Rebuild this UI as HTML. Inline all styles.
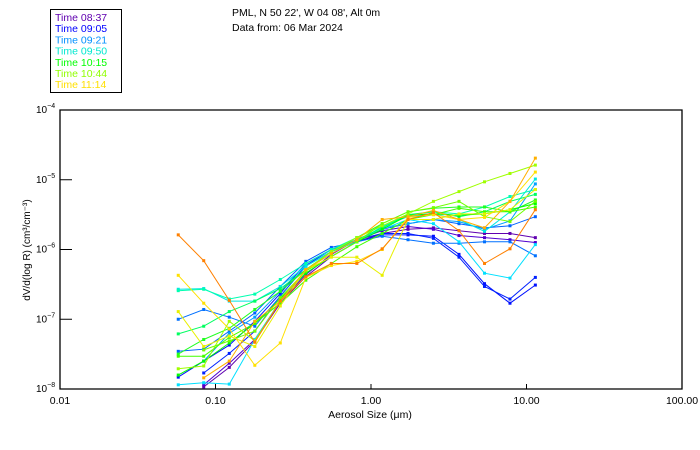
<!DOCTYPE html>
<html><head><meta charset="utf-8"><style>
html,body{margin:0;padding:0;background:#fff;}
svg{display:block;font-family:"Liberation Sans",sans-serif;}
</style></head><body>
<svg id="chart" width="700" height="450" viewBox="0 0 700 450">
<rect x="0" y="0" width="700" height="450" fill="#fff"/>
<g>
<rect x="50.5" y="9.5" width="71" height="83" fill="none" stroke="#000"/>
<g font-size="10.5" id="legend-items"></g>
</g>
<text x="232" y="16" font-size="10.5">PML, N 50 22', W 04 08', Alt 0m</text>
<text x="232" y="31" font-size="10.5">Data from: 06 Mar 2024</text>
<g id="axes"></g>
<g id="series"></g>
<text x="370" y="418" font-size="10.5" text-anchor="middle">Aerosol Size (μm)</text>
<text transform="translate(30,250) rotate(-90)" font-size="10" text-anchor="middle">dV/d(log R) (cm³/cm⁻³)</text>
</svg>
<script>
// Categories: aerosol size bins (μm)
const sizes = [0.0576,0.084,0.1226,0.179,0.261,0.381,0.556,0.811,1.18,1.73,2.52,3.68,5.37,7.83,11.4];
const xTicks = [0.01,0.1,1,10,100];
const xTickLabels = ["0.01","0.10","1.00","10.00","100.00"];
const yTickExps = [-4,-5,-6,-7,-8];
const legendTimes = ["08:37","09:05","09:21","09:50","10:15","10:44","11:14"];
const legendColors = ["#6000b0","#0000ff","#0090ff","#00e8d0","#00ff00","#90ff00","#ffe000"];
const seriesColors = ["#6000b0","#5000d0","#0010ff","#0020ff","#0060ff","#0070ff","#00a0ff","#00e0ff","#00e8e0","#00ffb0","#00ff60","#20ff20","#00ff00","#40ff00","#a0ff00","#70ff00","#e8f000","#ffe000","#ffb000","#ff8000"];
// log10 of dV/d(log R)
const s1 = [null,-7.97,-7.69,-7.31,-6.77,-6.39,-6.10,-5.89,-5.77,-5.71,-5.69,-5.73,-5.77,-5.77,-5.83];
const s2 = [null,-7.94,-7.63,-7.29,-6.74,-6.36,-6.07,-5.86,-5.73,-5.67,-5.71,-5.80,-5.83,-5.86,-5.90];
const s3 = [-7.83,-7.60,-7.37,-7.03,-6.63,-6.20,-6.00,-5.89,-5.79,-5.79,-5.81,-6.07,-6.49,-6.77,-6.51];
const s4 = [null,-7.77,-7.49,-7.17,-6.67,-6.23,-6.00,-5.86,-5.77,-5.77,-5.84,-6.11,-6.53,-6.71,-6.40];
const s5 = [-7.46,-7.43,-7.17,-6.91,-6.53,-6.17,-5.97,-5.89,-5.71,-5.63,-5.57,-5.63,-5.69,-5.66,-5.53];
const s6 = [-7.00,-6.86,-6.97,-7.10,-6.67,-6.24,-6.03,-5.89,-5.81,-5.86,-5.91,-5.91,-5.89,-5.89,-6.09];
const s7 = [null,-7.60,-7.20,-6.97,-6.60,-6.20,-6.00,-5.86,-5.69,-5.63,-5.57,-5.60,-5.71,-5.59,-5.06];
const s8 = [-7.94,-7.91,-7.93,-7.29,-6.74,-6.31,-6.03,-5.86,-5.71,-5.57,-5.63,-5.89,-6.34,-6.41,-5.93];
const s9 = [-6.57,-6.56,-6.74,-6.74,-6.53,-6.24,-6.03,-5.89,-5.67,-5.53,-5.49,-5.57,-5.74,-5.46,-4.99];
const s10 = [-6.59,-6.57,-6.71,-6.64,-6.43,-6.20,-6.00,-5.83,-5.66,-5.51,-5.46,-5.49,-5.39,-5.24,-5.14];
const s11 = [-7.21,-7.10,-6.89,-6.74,-6.56,-6.29,-6.03,-5.86,-5.69,-5.50,-5.46,-5.53,-5.46,-5.31,-5.21];
const s12 = [-7.50,-7.29,-7.13,-6.86,-6.60,-6.29,-6.03,-5.83,-5.63,-5.46,-5.41,-5.39,-5.39,-5.46,-5.29];
const s13 = [-7.80,-7.60,-7.34,-7.06,-6.71,-6.34,-6.10,-5.89,-5.71,-5.51,-5.49,-5.51,-5.49,-5.43,-5.34];
const s14 = [-7.53,-7.53,-7.26,-7.06,-6.77,-6.44,-6.20,-5.96,-5.77,-5.57,-5.50,-5.41,-5.46,-5.46,-5.39];
const s15 = [-7.71,-7.67,-7.03,-7.31,-6.74,-6.29,-6.03,-5.83,-5.66,-5.49,-5.31,-5.17,-5.03,-4.91,-4.79];
const s16 = [null,-7.44,-7.31,-7.17,-6.69,-6.31,-6.10,-5.89,-5.63,-5.46,-5.40,-5.31,-5.53,-5.60,-5.31];
const s17 = [-6.89,-7.39,-7.24,-7.39,-6.81,-6.29,-6.11,-6.11,-6.37,-5.57,-5.57,-5.49,-5.49,-5.43,-5.14];
const s18 = [-6.37,-6.77,-7.14,-7.66,-7.34,-6.40,-6.23,-6.17,-6.00,-5.54,-5.50,-5.57,-5.54,-5.31,-4.89];
const s19 = [null,-7.84,-7.60,-7.03,-6.74,-6.29,-6.06,-5.86,-5.57,-5.53,-5.44,-5.57,-5.69,-5.31,-4.69];
const s20 = [-5.79,-6.16,-6.73,-7.33,-6.74,-6.39,-6.20,-6.20,-5.99,-5.57,-5.47,-5.73,-6.20,-5.99,-5.43];
const allSeries = [s1,s2,s3,s4,s5,s6,s7,s8,s9,s10,s11,s12,s13,s14,s15,s16,s17,s18,s19,s20];

const NS = "http://www.w3.org/2000/svg";
const L=60,R=682,T=110,B=389;
function xs(v){return L+(Math.log10(v)+2)/4*(R-L);}
function ys(e){return T+(-4-e)/4*(B-T);}
function mk(tag,attrs,parent){const e=document.createElementNS(NS,tag);for(const k in attrs)e.setAttribute(k,attrs[k]);parent.appendChild(e);return e;}

const axes=document.getElementById('axes');
const frame=mk('path',{d:`M${L} ${T}H${R}V${B}H${L}Z`,fill:'none',stroke:'#000','stroke-width':1.3},axes);


xTicks.forEach((t,i)=>{
  const x=xs(t);
  const tk=mk('line',{x1:x,x2:x,y1:B,y2:B-5,stroke:'#000'},axes);
  
  
  const tx=mk('text',{x:x,y:404,'font-size':10.5,'text-anchor':'middle'},axes);
  tx.textContent=xTickLabels[i];
  
  
});
yTickExps.forEach(e=>{
  const y=ys(e);
  const tk=mk('line',{x1:L,x2:L+12,y1:y,y2:y,stroke:'#000'},axes);
  
  
  const tx=mk('text',{x:36,y:y+3,'font-size':10},axes);
  tx.textContent='10';
  
  
  const sp=mk('tspan',{dy:-5,'font-size':7},tx);
  sp.textContent='−'+(-e);
});

const leg=document.getElementById('legend-items');
legendTimes.forEach((t,i)=>{
  const tx=mk('text',{x:55,y:21+i*11.2,fill:legendColors[i]},leg);
  tx.textContent='Time '+t;
  
  
});

const sg=document.getElementById('series');
allSeries.forEach((s,si)=>{
  const c=seriesColors[si];
  const g=mk('g',{},sg);
  
  
  let d='';
  s.forEach((v,i)=>{ if(v===null)return; d+=(d?'L':'M')+xs(sizes[i]).toFixed(1)+' '+ys(v).toFixed(1);});
  mk('path',{d:d,fill:'none',stroke:c,'stroke-width':1},g);
  s.forEach((v,i)=>{ if(v===null)return;
    const r=mk('rect',{x:xs(sizes[i])-1.5,y:ys(v)-1.5,width:3,height:3,fill:c},g);
    
    
  });
});
</script>
</body></html>
